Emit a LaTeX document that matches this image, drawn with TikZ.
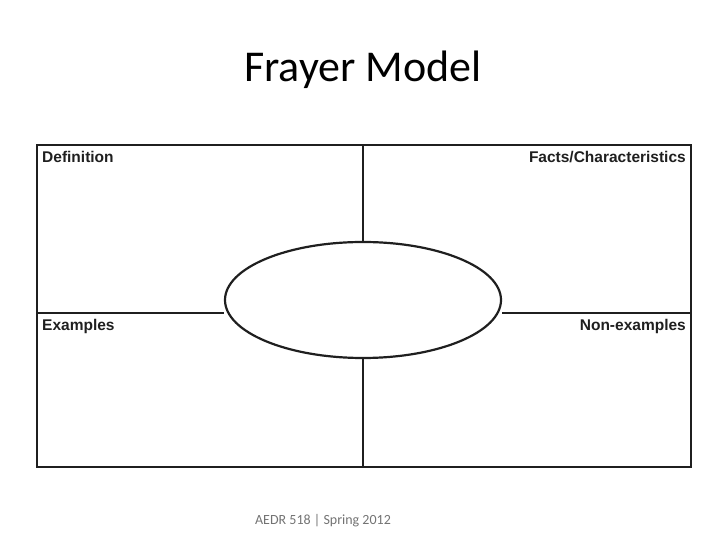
\documentclass[tikz,border=0pt]{standalone}
\usepackage{fontspec}
\usetikzlibrary{shapes.geometric}
\setmainfont{Carlito}
\newfontfamily\arialf{Liberation Sans}
\begin{document}
\begin{tikzpicture}[x=1pt,y=1pt,
  lab/.style={font=\arialf\bfseries\fontsize{15.5}{18}\selectfont, text=black!88, inner sep=0pt},
  ln/.style={line width=2.2pt, black!88}]
\useasboundingbox (0,0) rectangle (728,546);
\node (title) at (363,476) {\fontsize{44}{50}\selectfont Frayer Model};
\coordinate (tl) at (37,401); \coordinate (br) at (691,79);
\draw[ln] (tl) rectangle (br);
\coordinate (tm) at (363,401); \coordinate (bm) at (363,79);
\coordinate (ml) at (37,233); \coordinate (mr) at (691,233);
\node[draw, ln, ellipse, minimum width=276, minimum height=116, inner sep=0pt, fill=white] (ov) at (363,246) {};
\draw[ln] (tm) -- (ov.north);
\draw[ln] (ov.south) -- (bm);
\draw[ln] (ml) -- (ml -| ov.west);
\draw[ln] (mr) -- (mr -| ov.east);
\node[lab, anchor=west] (d) at (42,389) {Definition};
\node[lab, anchor=east] (f) at (686,389) {Facts/Characteristics};
\node[lab, anchor=west] (e) at (42,220) {Examples};
\node[lab, anchor=east] (n) at (686,220) {Non-examples};
\node[text=black!55, font=\fontsize{14}{16}\selectfont] (foot) at (323,25) {AEDR 518 | Spring 2012};
\end{tikzpicture}
\end{document}
